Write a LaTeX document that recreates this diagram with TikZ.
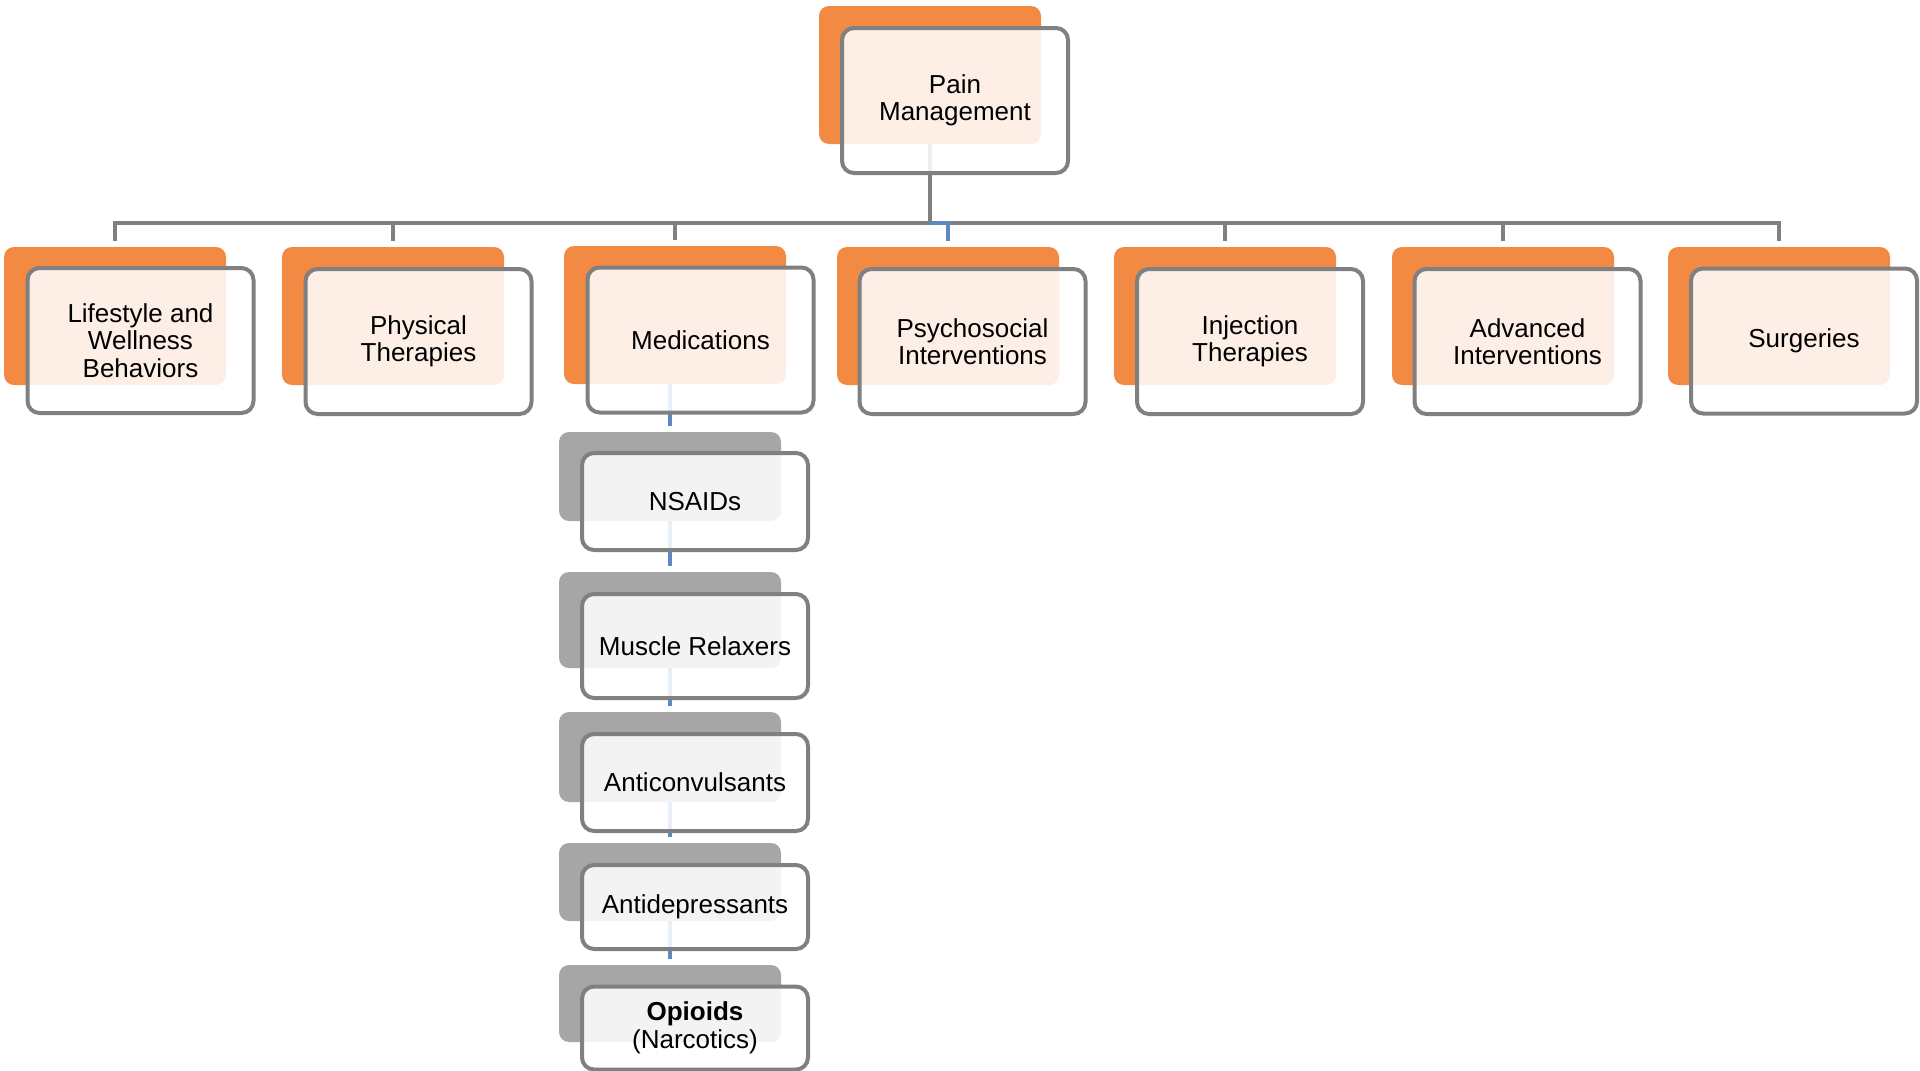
\documentclass[tikz,border=0pt]{standalone}
\usepackage{fontspec}
\setmainfont{Liberation Sans}
\usetikzlibrary{backgrounds}
\definecolor{orangeC}{RGB}{242,138,67}
\definecolor{grayC}{RGB}{166,166,166}
\definecolor{outlineC}{RGB}{128,128,128}
\definecolor{connC}{RGB}{128,128,128}
\definecolor{blueC}{RGB}{92,137,194}
\begin{document}
\begin{tikzpicture}[x=1pt,y=-1pt,
  back/.style={rectangle, rounded corners=10pt, minimum width=222pt, inner sep=0pt, outer sep=0pt},
  orangeback/.style={back, fill=orangeC, minimum height=138pt},
  grayback/.style={back, fill=grayC},
  front/.style={rectangle, rounded corners=12pt, draw=outlineC, line width=4pt, fill=white, fill opacity=0.87, text opacity=1, minimum width=226pt, inner sep=0pt, outer sep=0pt, align=center, text=black, font=\fontsize{26}{27.5}\selectfont},
  topfront/.style={front, minimum height=145pt},
  conn/.style={draw=connC, line width=4.5pt, line join=miter},
  hconn/.style={draw=blueC, line width=4.5pt, line join=miter}]
\useasboundingbox (0,0) rectangle (1920,1071);

% root
\node[orangeback] (pmb) at (930,75) {};
\node[topfront] (pm) at (955,100.5) {Pain\\Management};

% level 1
\node[orangeback] (lsb) at (115,316) {};
\node[topfront] (ls) at (140.5,340.5) {Lifestyle and\\Wellness\\Behaviors};
\node[orangeback] (ptb) at (393,316) {};
\node[topfront] (pt) at (418.5,341.5) {Physical\\Therapies};
\node[orangeback] (mdb) at (675,315) {};
\node[topfront] (md) at (700.5,340) {Medications};
\node[orangeback] (psb) at (948,316) {};
\node[topfront] (ps) at (972.5,341.5) {Psychosocial\\Interventions};
\node[orangeback] (ijb) at (1225,316) {};
\node[topfront] (ij) at (1250,341.5) {Injection\\Therapies};
\node[orangeback] (avb) at (1503,316) {};
\node[topfront] (av) at (1527.5,341.5) {Advanced\\Interventions};
\node[orangeback] (sgb) at (1779,316) {};
\node[topfront] (sg) at (1804,341) {Surgeries};

% medications sub-items
\node[grayback, minimum height=89pt] (nsb) at (670,476.5) {};
\node[front, minimum height=97pt] (ns) at (695,501.5) {NSAIDs};
\node[grayback, minimum height=96pt] (mrb) at (670,620) {};
\node[front, minimum height=104pt] (mr) at (695,646) {Muscle Relaxers};
\node[grayback, minimum height=90pt] (acb) at (670,757) {};
\node[front, minimum height=97pt] (ac) at (695,782.5) {Anticonvulsants};
\node[grayback, minimum height=78pt] (adb) at (670,882) {};
\node[front, minimum height=84pt] (ad) at (695,907) {Antidepressants};
\node[grayback, minimum height=77pt] (opb) at (670,1003.5) {};
\node[front, minimum height=83pt] (op) at (695,1028) {{\bfseries Opioids}\\(Narcotics)};

\begin{pgfonlayer}{background}
  \coordinate (bar) at (930,223);
  \draw[conn] (pmb.south) -- (bar);
  \draw[conn] ([yshift=6pt]lsb.north) |- (bar) -| ([yshift=6pt]sgb.north);
  \draw[conn] (ptb.north |- bar) -- ([yshift=6pt]ptb.north);
  \draw[conn] (mdb.north |- bar) -- ([yshift=6pt]mdb.north);
  \draw[conn] (ijb.north |- bar) -- ([yshift=6pt]ijb.north);
  \draw[conn] (avb.north |- bar) -- ([yshift=6pt]avb.north);
  \draw[hconn] (bar) -| ([yshift=6pt]psb.north);
  % medications chain
  \draw[hconn] (mdb.south -| nsb.north) -- ([yshift=6pt]nsb.north);
  \draw[hconn] (nsb.south) -- ([yshift=6pt]mrb.north);
  \draw[hconn] (mrb.south) -- ([yshift=6pt]acb.north);
  \draw[hconn] (acb.south) -- ([yshift=6pt]adb.north);
  \draw[hconn] (adb.south) -- ([yshift=6pt]opb.north);
\end{pgfonlayer}
\end{tikzpicture}
\end{document}
